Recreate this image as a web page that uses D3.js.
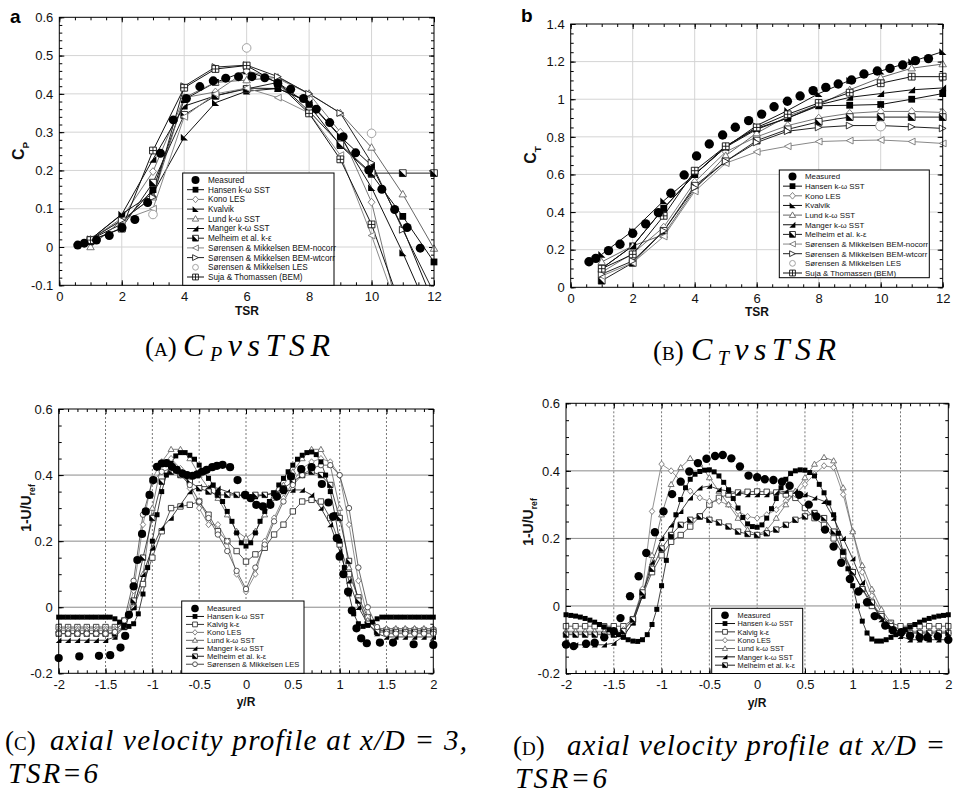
<!DOCTYPE html>
<html><head><meta charset="utf-8">
<script src="https://cdn.jsdelivr.net/npm/d3@7"></script>
<style>body{margin:0;background:#fff}svg{display:block}</style>
</head><body>
<svg id="fig" width="953" height="794"></svg>
<script>
// ---------- data: power / thrust coefficient vs tip speed ratio ----------
const tsr = [1,2,3,4,5,6,7,8,9,10,11,12];

const measuredA_x = [0.59,0.8,1.19,1.6,2.01,2.42,2.83,3.24,3.65,4.07,4.5,4.93,5.33,5.74,6.17,6.58,7.0,7.41,7.82,8.23,8.66,9.09,9.49,9.91,10.33,10.74,11.14,11.56];
const measuredA_y = [0.005,0.01,0.018,0.03,0.05,0.072,0.116,0.245,0.332,0.388,0.419,0.434,0.441,0.445,0.445,0.442,0.427,0.412,0.388,0.36,0.325,0.288,0.246,0.201,0.151,0.098,0.051,-0.003];
const hansenA  = [0.02,0.06,0.15,0.385,0.43,0.46,0.43,0.37,0.265,0.19,0.08,-0.039];
const konoA    = [0.02,0.075,0.197,0.39,0.405,0.46,0.44,0.4,0.3,0.117,-0.22];
const kvalvikA = [0.02,0.086,0.14,0.287,0.377,0.407,0.414,0.38,0.29,0.155,-0.015,-0.2];
const lundA    = [0.0,0.07,0.13,0.39,0.43,0.436,0.443,0.401,0.35,0.26,0.138,-0.004];
const mangerA  = [0.02,0.085,0.229,0.368,0.395,0.415,0.414,0.378,0.288,0.213,0.05,-0.15];
const melheimA = [0.015,0.05,0.168,0.345,0.395,0.413,0.43,0.355,0.268,0.193,0.193,0.193];
const nocorrA  = [0.02,0.07,0.1,0.34,0.4,0.415,0.39,0.35,0.24,0.03,-0.2];
const wtcorrA  = [0.02,0.07,0.13,0.42,0.47,0.475,0.445,0.4,0.35,0.22,0.045,-0.12];
const sujaA    = [0.018,0.048,0.252,0.416,0.465,0.474,0.427,0.349,0.229,0.059,-0.17];
const lesA_x   = [3,6,10];
const lesA     = [0.085,0.52,0.297];

const measuredB_x = [0.59,0.81,1.22,1.59,2.0,2.42,2.83,3.23,3.66,4.06,4.47,4.9,5.31,5.74,6.16,6.56,6.99,7.4,7.82,8.23,8.63,9.06,9.46,9.89,10.3,10.71,11.12,11.54];
const measuredB_y = [0.136,0.154,0.195,0.229,0.287,0.337,0.397,0.5,0.597,0.698,0.762,0.81,0.851,0.886,0.921,0.96,0.989,1.017,1.046,1.063,1.081,1.102,1.134,1.15,1.164,1.182,1.205,1.216];
const hansenB  = [0.1,0.22,0.42,0.6,0.745,0.84,0.9,0.965,0.968,0.972,1.0,1.03];
const konoB    = [0.08,0.18,0.32,0.56,0.72,0.8,0.86,0.9,0.925,0.935,0.935,0.93];
const kvalvikB = [0.175,0.3,0.46,0.6,0.745,0.86,0.94,1.03,1.1,1.15,1.2,1.253];
const lundB    = [0.135,0.22,0.28,0.52,0.7,0.82,0.91,0.97,1.05,1.115,1.165,1.187];
const mangerB  = [0.1,0.22,0.42,0.6,0.75,0.845,0.9,0.97,1.01,1.03,1.05,1.06];
const melheimB = [0.035,0.13,0.3,0.54,0.67,0.78,0.84,0.88,0.905,0.905,0.905,0.905];
const nocorrB  = [0.06,0.13,0.27,0.51,0.66,0.72,0.75,0.775,0.78,0.783,0.775,0.765];
const wtcorrB  = [0.07,0.14,0.3,0.53,0.67,0.77,0.83,0.85,0.86,0.86,0.853,0.845];
const sujaB    = [0.099,0.175,0.38,0.62,0.75,0.85,0.92,0.98,1.035,1.085,1.12,1.12];
const lesB_x   = [10];
const lesB     = [0.858];

// ---------- data: wake profiles 1-U/Uref vs y/R ----------
const yR = [-2,-1.9,-1.8,-1.7,-1.6,-1.5,-1.4,-1.3,-1.2,-1.1,-1,-0.9,-0.8,-0.7,-0.6,-0.5,-0.4,-0.3,-0.2,-0.1,0,0.1,0.2,0.3,0.4,0.5,0.6,0.7,0.8,0.9,1,1.1,1.2,1.3,1.4,1.5,1.6,1.7,1.8,1.9,2];
const yRfine = [-2,-1.95,-1.9,-1.85,-1.8,-1.75,-1.7,-1.65,-1.6,-1.55,-1.5,-1.45,-1.4,-1.35,-1.3,-1.25,-1.2,-1.15,-1.1,-1.05,-1,-0.95,-0.9,-0.85,-0.8,-0.75,-0.7,-0.65,-0.6,-0.55,-0.5,-0.45,-0.4,-0.35,-0.3,-0.25,-0.2,-0.15,-0.1,-0.05,0,0.05,0.1,0.15,0.2,0.25,0.3,0.35,0.4,0.45,0.5,0.55,0.6,0.65,0.7,0.75,0.8,0.85,0.9,0.95,1,1.05,1.1,1.15,1.2,1.25,1.3,1.35,1.4,1.45,1.5,1.55,1.6,1.65,1.7,1.75,1.8,1.85,1.9,1.95,2];

const measuredC_x = [-2.0,-1.78,-1.57,-1.45,-1.34,-1.29,-1.25,-1.2,-1.16,-1.11,-1.07,-1.03,-0.99,-0.95,-0.9,-0.85,-0.79,-0.74,-0.68,-0.63,-0.57,-0.52,-0.47,-0.42,-0.36,-0.31,-0.25,-0.17,-0.09,-0.01,0.05,0.11,0.18,0.26,0.33,0.4,0.48,0.59,0.7,0.81,0.88,0.93,0.97,1.0,1.04,1.09,1.13,1.18,1.23,1.29,1.43,1.57,1.79,2.0];
const measuredC_y = [-0.154,-0.149,-0.147,-0.145,-0.122,-0.087,-0.023,0.063,0.143,0.222,0.29,0.34,0.385,0.425,0.435,0.436,0.425,0.416,0.405,0.4,0.398,0.402,0.41,0.416,0.424,0.428,0.431,0.424,0.385,0.34,0.33,0.31,0.305,0.31,0.335,0.355,0.396,0.418,0.424,0.373,0.317,0.274,0.209,0.153,0.1,0.047,-0.01,-0.064,-0.094,-0.109,-0.107,-0.107,-0.112,-0.114];
const hansenC = [-0.03,-0.03,-0.03,-0.03,-0.03,-0.03,-0.03,-0.03,-0.03,-0.03,-0.03,-0.03,
  -0.035,-0.045,-0.055,-0.058,-0.05,-0.02,0.04,0.12,0.2,0.28,0.35,0.4,0.435,0.458,0.468,0.468,0.46,0.448,0.43,0.41,0.39,0.37,0.345,0.32,0.29,0.26,0.225,0.195,0.185,
  0.195,0.225,0.26,0.29,0.32,0.345,0.37,0.39,0.41,0.43,0.448,0.46,0.468,0.47,0.462,0.44,0.4,0.35,0.28,0.2,0.12,0.04,-0.02,-0.05,-0.058,-0.055,-0.045,-0.035,
  -0.03,-0.03,-0.03,-0.03,-0.03,-0.03,-0.03,-0.03,-0.03,-0.03,-0.03,-0.03];
const kalvigC  = [-0.06,-0.06,-0.06,-0.06,-0.06,-0.06,-0.06,-0.04,0.0,0.07,0.15,0.23,0.3,0.305,0.31,0.32,0.28,0.23,0.2,0.17,0.138,0.16,0.18,0.22,0.25,0.29,0.32,0.325,0.32,0.27,0.19,0.1,0.03,-0.03,-0.07,-0.07,-0.07,-0.07,-0.07,-0.07,-0.07];
const konoC    = [-0.065,-0.065,-0.065,-0.065,-0.065,-0.065,-0.065,-0.05,0.05,0.25,0.39,0.44,0.45,0.42,0.36,0.3,0.25,0.25,0.2,0.1,0.047,0.1,0.2,0.27,0.33,0.38,0.42,0.44,0.45,0.44,0.4,0.25,0.08,-0.03,-0.065,-0.065,-0.065,-0.065,-0.065,-0.065,-0.065];
const lundC    = [-0.07,-0.07,-0.07,-0.07,-0.07,-0.07,-0.07,-0.06,0.0,0.1,0.3,0.44,0.478,0.478,0.45,0.4,0.36,0.33,0.28,0.23,0.21,0.23,0.28,0.33,0.37,0.41,0.45,0.478,0.478,0.43,0.3,0.12,0.02,-0.04,-0.065,-0.065,-0.065,-0.065,-0.065,-0.065,-0.065];
const mangerC  = [-0.1,-0.1,-0.1,-0.1,-0.1,-0.1,-0.09,-0.06,0.0,0.1,0.18,0.24,0.27,0.31,0.35,0.365,0.365,0.36,0.35,0.34,0.335,0.335,0.34,0.345,0.35,0.355,0.355,0.34,0.3,0.25,0.17,0.08,0.0,-0.05,-0.08,-0.09,-0.09,-0.09,-0.09,-0.09,-0.09];
const melheimC = [-0.08,-0.08,-0.08,-0.08,-0.08,-0.08,-0.08,-0.06,0.02,0.15,0.27,0.38,0.41,0.4,0.38,0.36,0.35,0.34,0.34,0.34,0.34,0.34,0.34,0.345,0.36,0.38,0.4,0.41,0.4,0.37,0.27,0.14,0.02,-0.05,-0.075,-0.075,-0.075,-0.075,-0.075,-0.075,-0.075];
const lesC     = [-0.08,-0.08,-0.08,-0.08,-0.08,-0.08,-0.075,-0.04,0.08,0.28,0.38,0.41,0.42,0.4,0.37,0.32,0.27,0.22,0.17,0.11,0.055,0.12,0.19,0.26,0.32,0.37,0.4,0.42,0.43,0.43,0.4,0.3,0.12,0.0,-0.06,-0.08,-0.08,-0.08,-0.08,-0.08,-0.08];

const measuredD_x = [-2.0,-1.92,-1.79,-1.7,-1.6,-1.5,-1.43,-1.33,-1.24,-1.16,-1.07,-0.98,-0.89,-0.8,-0.71,-0.62,-0.53,-0.44,-0.36,-0.27,-0.18,-0.09,0.0,0.08,0.17,0.26,0.34,0.44,0.54,0.62,0.71,0.8,0.88,0.97,1.06,1.15,1.23,1.34,1.42,1.51,1.6,1.7,1.78,1.89,2.0];
const measuredD_y = [-0.114,-0.119,-0.112,-0.109,-0.093,-0.075,-0.036,0.029,0.088,0.157,0.218,0.28,0.331,0.368,0.398,0.423,0.436,0.444,0.447,0.437,0.413,0.386,0.381,0.375,0.373,0.368,0.356,0.329,0.3,0.265,0.226,0.176,0.128,0.08,0.043,0.011,-0.03,-0.058,-0.072,-0.078,-0.088,-0.093,-0.093,-0.09,-0.1];
const hansenD = [-0.026,-0.028,-0.03,-0.033,-0.037,-0.042,-0.048,-0.055,-0.062,-0.07,-0.077,-0.085,-0.093,-0.1,-0.104,-0.105,-0.1,-0.085,-0.055,-0.01,0.06,0.135,0.205,0.27,0.315,0.35,0.375,0.39,0.398,0.402,0.403,0.397,0.385,0.366,0.344,0.318,0.29,0.262,0.243,0.235,0.233,
  0.24,0.26,0.288,0.318,0.35,0.375,0.392,0.4,0.403,0.402,0.395,0.385,0.36,0.335,0.305,0.27,0.215,0.16,0.11,0.06,0.0,-0.045,-0.08,-0.098,-0.104,-0.104,-0.1,-0.093,-0.085,-0.077,-0.07,-0.062,-0.055,-0.048,-0.042,-0.037,-0.033,-0.03,-0.028,-0.026];
const kalvigD  = [-0.06,-0.06,-0.06,-0.06,-0.06,-0.06,-0.06,-0.04,0.03,0.1,0.15,0.19,0.21,0.235,0.265,0.3,0.32,0.33,0.336,0.338,0.339,0.338,0.336,0.33,0.32,0.29,0.26,0.24,0.2,0.15,0.1,0.05,0.0,-0.03,-0.05,-0.06,-0.06,-0.06,-0.06,-0.06,-0.06];
const konoD    = [-0.08,-0.08,-0.08,-0.08,-0.08,-0.08,-0.07,-0.04,0.05,0.28,0.42,0.4,0.37,0.34,0.32,0.31,0.31,0.3,0.28,0.265,0.26,0.27,0.285,0.31,0.33,0.36,0.39,0.415,0.41,0.33,0.22,0.1,0.03,-0.02,-0.06,-0.08,-0.08,-0.08,-0.08,-0.08,-0.08];
const lundD    = [-0.075,-0.075,-0.075,-0.075,-0.075,-0.075,-0.09,-0.05,0.03,0.15,0.27,0.36,0.41,0.437,0.42,0.38,0.34,0.3,0.26,0.225,0.21,0.225,0.26,0.3,0.34,0.38,0.42,0.44,0.43,0.35,0.22,0.12,0.05,-0.01,-0.05,-0.075,-0.075,-0.075,-0.075,-0.075,-0.075];
const mangerD  = [-0.115,-0.115,-0.115,-0.115,-0.115,-0.11,-0.09,-0.05,0.03,0.13,0.2,0.24,0.28,0.32,0.35,0.355,0.345,0.34,0.335,0.33,0.33,0.33,0.335,0.34,0.34,0.33,0.32,0.31,0.26,0.2,0.14,0.07,0.01,-0.04,-0.07,-0.09,-0.1,-0.1,-0.1,-0.1,-0.1];
const melheimD = [-0.085,-0.085,-0.085,-0.085,-0.085,-0.085,-0.075,-0.04,0.04,0.11,0.17,0.21,0.24,0.255,0.265,0.255,0.247,0.235,0.22,0.213,0.21,0.215,0.226,0.24,0.255,0.265,0.275,0.26,0.22,0.16,0.1,0.05,0.01,-0.03,-0.06,-0.08,-0.08,-0.08,-0.08,-0.08,-0.08];

// ---------- tick labels and legend text ----------
const ticksTSR = [0,2,4,6,8,10,12];
const ticksCp  = [-0.1,0,0.1,0.2,0.3,0.4,0.5,0.6];
const ticksCt  = [0,0.2,0.4,0.6,0.8,1,1.2,1.4];
const ticksYR  = [-2,-1.5,-1,-0.5,0,0.5,1,1.5,2];
const ticksU   = [-0.2,0,0.2,0.4,0.6];

const namesAB = ['Measured','Hansen k-\u03c9 SST','Kono LES','Kvalvik','Lund k-\u03c9 SST','Manger k-\u03c9 SST','Melheim et al. k-\u03b5','S\u00f8rensen & Mikkelsen BEM-nocorr','S\u00f8rensen & Mikkelsen BEM-wtcorr','S\u00f8rensen & Mikkelsen LES','Suja & Thomassen (BEM)'];
const keysAB  = ['measured','hansen','kono','kvalvik','lund','manger','melheim','nocorr','wtcorr','les','suja'];
const namesC  = ['Measured','Hansen k-\u03c9 SST','Kalvig k-\u03b5','Kono LES','Lund k-\u03c9 SST','Manger k-\u03c9 SST','Melheim et al. k-\u03b5','S\u00f8rensen & Mikkelsen LES'];
const keysC   = ['measured','hansen','kalvig','kono','lund','manger','melheim','lesline'];
const namesD  = namesC.slice(0,7);
const keysD   = keysC.slice(0,7);

// ---------- marker and line styles ----------
const STY = {
  measured:{marker:'circleFilled', line:null, col:'#000'},
  hansen:  {marker:'squareFilled', line:'#111', col:'#000'},
  kalvig:  {marker:'squareOpen',   line:'#333', col:'#333'},
  kono:    {marker:'diamondOpen',  line:'#777', col:'#777'},
  kvalvik: {marker:'triLL',        line:'#111', col:'#000'},
  lund:    {marker:'triUpOpen',    line:'#666', col:'#666'},
  manger:  {marker:'triLR',        line:'#111', col:'#000'},
  melheim: {marker:'squareHalf',   line:'#222', col:'#222'},
  nocorr:  {marker:'triLeftOpen',  line:'#888', col:'#777'},
  wtcorr:  {marker:'triRightOpen', line:'#222', col:'#222'},
  les:     {marker:'circleOpen',   line:null,   col:'#999'},
  lesline: {marker:'circleOpen',   line:'#444', col:'#444'},
  suja:    {marker:'squareCross',  line:'#111', col:'#111'}
};

const SANS = 'Liberation Sans, Arial, Helvetica, sans-serif';
const SERIF = 'Liberation Serif, Times New Roman, serif';
const svg = d3.select('#fig');
svg.append('rect').attr('width',953).attr('height',794).attr('fill','#fff');

function drawMarker(g, type, cx, cy, s, col) {
  const m = g.append('g').attr('transform', `translate(${cx},${cy})`);
  const sw = 0.9;
  const sq = `M${-s},${-s}h${2*s}v${2*s}h${-2*s}Z`;
  switch (type) {
    case 'circleFilled': m.append('circle').attr('r', s).attr('fill', '#000'); break;
    case 'circleOpen': m.append('circle').attr('r', s).attr('fill', '#fff').attr('stroke', col).attr('stroke-width', sw); break;
    case 'squareFilled': m.append('path').attr('d', sq).attr('fill', '#000'); break;
    case 'squareOpen': m.append('path').attr('d', sq).attr('fill', '#fff').attr('stroke', col).attr('stroke-width', sw); break;
    case 'squareHalf':
      m.append('path').attr('d', sq).attr('fill', '#fff').attr('stroke', col).attr('stroke-width', sw);
      m.append('path').attr('d', `M${-s},${-s}L${-s},${s}L${s},${s}Z`).attr('fill', '#000'); break;
    case 'squareCross':
      m.append('path').attr('d', sq).attr('fill', '#fff').attr('stroke', col).attr('stroke-width', sw);
      m.append('path').attr('d', `M${-s},0H${s}M0,${-s}V${s}`).attr('stroke', col).attr('stroke-width', sw); break;
    case 'diamondOpen': m.append('path').attr('d', `M0,${-s*1.15}L${s},0L0,${s*1.15}L${-s},0Z`).attr('fill', '#fff').attr('stroke', col).attr('stroke-width', sw); break;
    case 'triUpOpen': m.append('path').attr('d', `M0,${-s*1.1}L${s*1.1},${s*0.8}L${-s*1.1},${s*0.8}Z`).attr('fill', '#fff').attr('stroke', col).attr('stroke-width', sw); break;
    case 'triLL': m.append('path').attr('d', `M${-s},${-s}L${-s},${s}L${s*1.1},${s}Z`).attr('fill', '#000'); break;
    case 'triLR': m.append('path').attr('d', `M${s},${-s}L${s},${s}L${-s*1.1},${s}Z`).attr('fill', '#000'); break;
    case 'triLeftOpen': m.append('path').attr('d', `M${-s},0L${s},${-s}L${s},${s}Z`).attr('fill', '#fff').attr('stroke', col).attr('stroke-width', sw); break;
    case 'triRightOpen': m.append('path').attr('d', `M${s},0L${-s},${-s}L${-s},${s}Z`).attr('fill', '#fff').attr('stroke', col).attr('stroke-width', sw); break;
  }
}

const fmt = d => String(+(+d).toFixed(2));

function makePanel(c) {
  const x = d3.scaleLinear().domain(c.xd).range([c.L, c.R]);
  const y = d3.scaleLinear().domain(c.yd).range([c.B, c.T]);
  const g = svg.append('g');
  const grid = g.append('g');
  if (c.grid === 'solid') {
    c.xt.filter(v => v > c.xd[0] && v < c.xd[1]).forEach(v =>
      grid.append('line').attr('x1', x(v)).attr('x2', x(v)).attr('y1', c.T).attr('y2', c.B).attr('stroke', '#d4d4d4').attr('stroke-width', 1));
    c.yt.filter(v => v > c.yd[0] && v < c.yd[1]).forEach(v =>
      grid.append('line').attr('y1', y(v)).attr('y2', y(v)).attr('x1', c.L).attr('x2', c.R).attr('stroke', '#d4d4d4').attr('stroke-width', 1));
  } else {
    c.xt.filter(v => v > c.xd[0] && v < c.xd[1]).forEach(v =>
      grid.append('line').attr('x1', x(v)).attr('x2', x(v)).attr('y1', c.T).attr('y2', c.B).attr('stroke', '#555').attr('stroke-width', 0.8).attr('stroke-dasharray', '2,2'));
    c.yt.filter(v => v > c.yd[0] && v < c.yd[1]).forEach(v =>
      grid.append('line').attr('y1', y(v)).attr('y2', y(v)).attr('x1', c.L).attr('x2', c.R).attr('stroke', '#8a8a8a').attr('stroke-width', 1));
  }
  // axes with inward ticks on all four sides
  const style = sel => { sel.select('.domain').remove(); sel.attr('font-family', SANS).attr('font-size', 13); sel.selectAll('line').attr('stroke', '#000'); };
  const xMin = d3.range(c.xd[0], c.xd[1] + 1e-9, c.xm);
  const yMin = d3.range(c.yd[0], c.yd[1] + 1e-9, c.ym);
  g.append('g').attr('transform', `translate(0,${c.B})`).call(d3.axisBottom(x).tickValues(xMin).tickSize(-3).tickFormat('')).call(style);
  g.append('g').attr('transform', `translate(0,${c.B})`).call(d3.axisBottom(x).tickValues(c.xt).tickSize(-5).tickPadding(6).tickFormat(fmt)).call(style);
  g.append('g').attr('transform', `translate(0,${c.T})`).call(d3.axisTop(x).tickValues(xMin).tickSize(-3).tickFormat('')).call(style);
  g.append('g').attr('transform', `translate(0,${c.T})`).call(d3.axisTop(x).tickValues(c.xt).tickSize(-5).tickFormat('')).call(style);
  g.append('g').attr('transform', `translate(${c.L},0)`).call(d3.axisLeft(y).tickValues(yMin).tickSize(-3).tickFormat('')).call(style);
  g.append('g').attr('transform', `translate(${c.L},0)`).call(d3.axisLeft(y).tickValues(c.yt).tickSize(-5).tickPadding(6).tickFormat(fmt)).call(style);
  g.append('g').attr('transform', `translate(${c.R},0)`).call(d3.axisRight(y).tickValues(yMin).tickSize(-3).tickFormat('')).call(style);
  g.append('g').attr('transform', `translate(${c.R},0)`).call(d3.axisRight(y).tickValues(c.yt).tickSize(-5).tickFormat('')).call(style);
  g.selectAll('.tick text').attr('fill', '#111');
  // clip region for the curves
  svg.append('clipPath').attr('id', 'clip' + c.id).append('rect')
    .attr('x', c.L).attr('y', c.T).attr('width', c.R - c.L).attr('height', c.B - c.T);
  const lines = g.append('g').attr('clip-path', `url(#clip${c.id})`);
  const marks = g.append('g');
  g.append('rect').attr('x', c.L).attr('y', c.T).attr('width', c.R - c.L).attr('height', c.B - c.T)
    .attr('fill', 'none').attr('stroke', '#000').attr('stroke-width', 1);
  return {x, y, lines, marks, c, g};
}

function series(p, xs, ys, key, s, lw) {
  const st = STY[key];
  const pts = ys.map((v, i) => [xs[i], v]);
  if (st.line) {
    p.lines.append('path').datum(pts)
      .attr('d', d3.line().x(d => p.x(d[0])).y(d => p.y(d[1])))
      .attr('fill', 'none').attr('stroke', st.line).attr('stroke-width', lw);
  }
  pts.filter(d => d[1] >= p.c.yd[0] && d[1] <= p.c.yd[1])
    .forEach(d => drawMarker(p.marks, st.marker, p.x(d[0]), p.y(d[1]), s, st.col));
}

function legend(box, names, keys, o) {
  const g = svg.append('g');
  g.append('rect').attr('x', box[0]).attr('y', box[1]).attr('width', box[2] - box[0]).attr('height', box[3] - box[1])
    .attr('fill', '#fff').attr('stroke', '#000').attr('stroke-width', 1);
  names.forEach((n, i) => {
    const yy = o.row0 + i * o.dy;
    const st = STY[keys[i]];
    if (st.line) g.append('line').attr('x1', o.s0).attr('x2', o.s1).attr('y1', yy).attr('y2', yy).attr('stroke', st.line).attr('stroke-width', 1);
    drawMarker(g, st.marker, (o.s0 + o.s1) / 2, yy, keys[i] === 'measured' ? o.mr : o.ms, st.col);
    g.append('text').attr('x', o.tx).attr('y', yy).attr('dy', '0.36em').attr('font-family', SANS)
      .attr('font-size', o.fs).attr('fill', '#111').text(n);
  });
}

function yTitle(cx, cy, main, sub, fs) {
  const t = svg.append('text').attr('transform', `translate(${cx},${cy}) rotate(-90)`)
    .attr('text-anchor', 'middle').attr('font-weight', 'bold').attr('font-size', fs).attr('font-family', SANS).attr('fill', '#111');
  t.append('tspan').text(main);
  t.append('tspan').attr('font-size', fs * 0.62).attr('dy', fs * 0.3).text(sub);
}
function xTitle(cx, cy, txt) {
  svg.append('text').attr('x', cx).attr('y', cy).attr('text-anchor', 'middle').attr('dy', '0.35em')
    .attr('font-weight', 'bold').attr('font-size', 12).attr('font-family', SANS).attr('fill', '#111').text(txt);
}

// ---------- panel a : Cp ----------
const pa = makePanel({id:'a', L:59.3, R:434, T:17.3, B:285.3, xd:[0,12], yd:[-0.1,0.6], xt:ticksTSR, yt:ticksCp, xm:0.5, ym:0.02, grid:'solid'});
[['hansen',hansenA],['kono',konoA],['kvalvik',kvalvikA],['lund',lundA],['manger',mangerA],['melheim',melheimA],['nocorr',nocorrA],['wtcorr',wtcorrA],['suja',sujaA]]
  .forEach(([k, v]) => series(pa, tsr, v, k, 3.4, 1));
series(pa, lesA_x, lesA, 'les', 4.3, 1);
series(pa, measuredA_x, measuredA_y, 'measured', 4.5, 1);
legend([182.7,173,334,285.3], namesAB, keysAB, {row0:180, dy:9.7, s0:187, s1:204, tx:208, fs:8.2, ms:2.9, mr:4});
svg.append('text').attr('x', 10).attr('y', 23).attr('font-family', SANS).attr('font-weight', 'bold').attr('font-size', 19).text('a');
yTitle(24, 151, 'C', 'P', 16);
xTitle(247, 311, 'TSR');

// ---------- panel b : Ct ----------
const pb = makePanel({id:'b', L:570.7, R:942.7, T:24, B:287.3, xd:[0,12], yd:[0,1.4], xt:ticksTSR, yt:ticksCt, xm:0.5, ym:0.05, grid:'solid'});
[['hansen',hansenB],['kono',konoB],['kvalvik',kvalvikB],['lund',lundB],['manger',mangerB],['melheim',melheimB],['nocorr',nocorrB],['wtcorr',wtcorrB],['suja',sujaB]]
  .forEach(([k, v]) => series(pb, tsr, v, k, 3.4, 1));
series(pb, lesB_x, lesB, 'les', 5, 1);
series(pb, measuredB_x, measuredB_y, 'measured', 4.7, 1);
legend([779.3,170,929.3,277.7], namesAB, keysAB, {row0:176.5, dy:9.65, s0:783, s1:802, tx:805, fs:7.9, ms:2.9, mr:4});
svg.append('text').attr('x', 521).attr('y', 22).attr('font-family', SANS).attr('font-weight', 'bold').attr('font-size', 19).text('b');
yTitle(536, 155, 'C', 'T', 16);
xTitle(757, 312, 'TSR');

// ---------- panel c : wake at x/D = 3 ----------
const pc = makePanel({id:'c', L:58.7, R:433.3, T:409, B:673.3, xd:[-2,2], yd:[-0.2,0.6], xt:ticksYR, yt:ticksU, xm:0.1, ym:0.05, grid:'dotted'});
[['kalvig',kalvigC],['kono',konoC],['lund',lundC],['manger',mangerC],['melheim',melheimC],['lesline',lesC]]
  .forEach(([k, v]) => series(pc, yR, v, k, 2.7, 0.8));
series(pc, yRfine, hansenC, 'hansen', 2.5, 0.8);
series(pc, measuredC_x, measuredC_y, 'measured', 4.1, 1);
legend([181.7,601,304,673.3], namesC, keysC, {row0:608.5, dy:7.96, s0:186, s1:204, tx:207, fs:7.6, ms:2.4, mr:3.8});
yTitle(31, 508, '1-U/U', 'ref', 14);
xTitle(246, 702, 'y/R');

// ---------- panel d : wake profile, second station ----------
const pd = makePanel({id:'d', L:566, R:948.3, T:403.3, B:673.5, xd:[-2,2], yd:[-0.2,0.6], xt:ticksYR, yt:ticksU, xm:0.1, ym:0.05, grid:'dotted'});
[['kalvig',kalvigD],['kono',konoD],['lund',lundD],['manger',mangerD],['melheim',melheimD]]
  .forEach(([k, v]) => series(pd, yR, v, k, 2.7, 0.8));
series(pd, yRfine, hansenD, 'hansen', 2.5, 0.8);
series(pd, measuredD_x, measuredD_y, 'measured', 4.2, 1);
legend([711.7,608.3,802.7,673.5], namesD, keysD, {row0:615.2, dy:8.33, s0:715, s1:735, tx:737.5, fs:7.4, ms:2.4, mr:3.8});
yTitle(533, 522, '1-U/U', 'ref', 14);
xTitle(757, 703, 'y/R');

// ---------- sub-figure captions ----------
function capLabel(x, y, letter) {
  const t = svg.append('text').attr('x', x).attr('y', y).attr('font-family', SERIF).attr('font-size', 27).attr('fill', '#000');
  t.append('tspan').text('(');
  t.append('tspan').attr('font-size', 19).text(letter);
  t.append('tspan').text(')');
}
function capMath(x, y, sym, sub, len) {
  const t = svg.append('text').attr('x', x).attr('y', y).attr('font-family', SERIF).attr('font-size', 32)
    .attr('font-style', 'italic').attr('fill', '#000').attr('textLength', len).attr('lengthAdjust', 'spacing');
  t.append('tspan').text(sym);
  t.append('tspan').attr('font-size', 20).attr('dy', 5).text(sub);
  t.append('tspan').attr('dy', -5).text('vsTSR');
}
function capItalic(x, y, txt, len) {
  svg.append('text').attr('x', x).attr('y', y).attr('font-family', SERIF).attr('font-size', 29)
    .attr('font-style', 'italic').attr('fill', '#000').attr('textLength', len).attr('lengthAdjust', 'spacing').text(txt);
}
capLabel(145, 356, 'A'); capMath(183, 356, 'C', 'P', 147);
capLabel(653, 360, 'B'); capMath(691, 360, 'C', 'T', 145);
capLabel(5, 750, 'C'); capItalic(50, 750, 'axial velocity profile at x/D = 3,', 417); capItalic(8, 783, 'TSR=6', 90);
capLabel(513, 755, 'D'); capItalic(567, 755, 'axial velocity profile at x/D =', 378); capItalic(515, 788, 'TSR=6', 92);
</script>
</body></html>
